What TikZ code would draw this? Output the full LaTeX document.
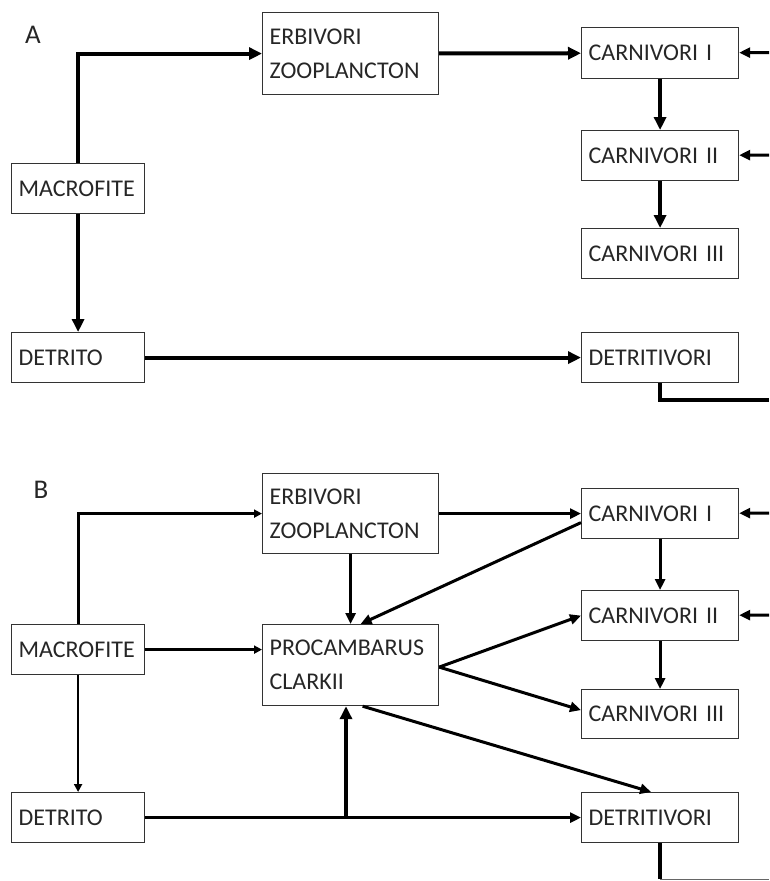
\documentclass[tikz,border=0pt]{standalone}
\usepackage{fontspec}
\setmainfont{Carlito}
\usetikzlibrary{arrows.meta}

\begin{document}
\begin{tikzpicture}[x = 1pt, y = -1pt, > = {Triangle[length=11pt, width=10pt]},
    font = \fontsize{24}{34}\selectfont,
    box/.style = {draw=black!80, line width=1.2pt, anchor=north west, inner xsep=7pt, inner ysep=0pt, align=left, text=black!85},
    lbox/.style = {box, text width=119pt, minimum height=50pt},
    mbox/.style = {box, text width=162pt},
    rbox/.style = {box, text width=143pt, minimum height=50pt},
    panel/.style = {font=\fontsize{27}{30}\selectfont, text=black!85},
    aline/.style = {line width=4pt},
    bline/.style = {line width=3pt},
    big/.style = {-{Triangle[length=13pt, width=12pt]}},
    small/.style = {-{Triangle[length=8pt, width=8pt]}}]
  \useasboundingbox (0,0) rectangle (769,881);

  % panel A
  \node[panel] (lblA) at (33,35) {A};
  \node[lbox] (macA) at (11,163) {MACROFITE};
  \node[lbox] (detA) at (11,332) {DETRITO};
  \node[mbox, minimum height=82pt] (erbA) at (262,12) {ERBIVORI\\ZOOPLANCTON};
  \node[rbox, minimum height=51pt] (carAi) at (581,27) {CARNIVORI I};
  \node[rbox] (carAii) at (581,130) {CARNIVORI II};
  \node[rbox] (carAiii) at (581,228) {CARNIVORI III};
  \node[rbox] (dtvA) at (581,332) {DETRITIVORI};
  \coordinate (inAi) at (769,52.5);
  \coordinate (inAii) at (769,155);
  \coordinate (outA) at (769,400);

  \draw[aline, big] (macA) |- (erbA);
  \draw[aline, big] (macA) -- (detA);
  \draw[aline, big] (erbA) -- (carAi);
  \draw[aline, big] (carAi) -- (carAii);
  \draw[aline, big] (carAii) -- (carAiii);
  \draw[bline, ->] (inAi) -- (carAi);
  \draw[bline, ->] (inAii) -- (carAii);
  \draw[aline, big] (detA) -- (dtvA);
  \draw[aline] (dtvA) |- (outA);

  % panel B
  \node[panel] (lblB) at (41,490) {B};
  \node[lbox] (macB) at (11,624) {MACROFITE};
  \node[lbox] (detB) at (11,792) {DETRITO};
  \node[mbox, minimum height=80pt] (erbB) at (262,473) {ERBIVORI\\ZOOPLANCTON};
  \node[mbox, minimum height=81pt] (proB) at (262,624) {PROCAMBARUS\\CLARKII};
  \node[rbox] (carBi) at (581,488) {CARNIVORI I};
  \node[rbox] (carBii) at (581,590) {CARNIVORI II};
  \node[rbox, minimum height=49pt] (carBiii) at (581,689) {CARNIVORI III};
  \node[rbox] (dtvB) at (581,792) {DETRITIVORI};
  \coordinate (inBi) at (769,513);
  \coordinate (inBii) at (769,615);
  \coordinate (fork) at (346,817);
  \coordinate (outB) at (769,879);

  \draw[bline, small] (macB) |- (erbB);
  \draw[line width=2pt, small] (macB) -- (detB);
  \draw[bline, small] (macB.east) -- (macB.east -| proB.west);
  \draw[bline, ->] (erbB) -- (carBi);
  \draw[bline, ->] (erbB) -- (proB);
  \draw[bline, ->] ([yshift=-9pt]carBi.west) -- ([xshift=10pt]proB.north);
  \draw[bline, ->] (carBi) -- (carBii);
  \draw[bline, ->] (carBii) -- (carBiii);
  \draw[bline, ->] (inBi) -- (carBi);
  \draw[bline, ->] (inBii) -- (carBii);
  \draw[bline, ->] ([yshift=-2pt]proB.east) -- (carBii.west);
  \draw[bline, ->] ([yshift=-2pt]proB.east) -- ([yshift=4pt]carBiii.west);
  \draw[bline, ->] ([xshift=12pt]proB.south) -- ([xshift=-9pt]dtvB.north);
  \draw[bline, ->] (detB) -- (dtvB);
  \draw[aline, big] (fork) -- (fork |- proB.south);
  \draw[aline] (dtvB.south) -- (dtvB.south |- outB);
  \draw[black!60, line width=1pt] (dtvB.south |- outB) -- (outB);
\end{tikzpicture}
\end{document}
